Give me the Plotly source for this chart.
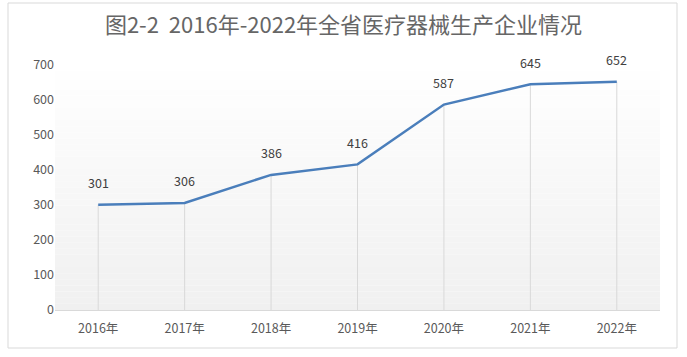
import plotly.graph_objects as go

years = ["2016年", "2017年", "2018年", "2019年", "2020年", "2021年", "2022年"]
values = [301, 306, 386, 416, 587, 645, 652]
y_ticks = [0, 100, 200, 300, 400, 500, 600, 700]
title_text = "图2-2  2016年-2022年全省医疗器械生产企业情况"

FONT = "Noto Sans CJK SC, Noto Sans, sans-serif"

fig = go.Figure()

# drop lines from each point to the baseline
for i, v in enumerate(values):
    fig.add_shape(type="line", xref="x", yref="y", x0=i, x1=i, y0=0, y1=v,
                  line=dict(color="#D9D9D9", width=1), layer="below")

fig.add_trace(go.Scatter(
    x=list(range(len(years))), y=values, mode="lines",
    line=dict(color="#4A7EBB", width=2.5),
    hoverinfo="skip", showlegend=False,
))

for i, v in enumerate(values):
    fig.add_annotation(x=i, y=v, text=str(v), showarrow=False, yshift=22,
                       font=dict(family=FONT, size=12.5, color="#404040"))

# gradient background (white at top to light gray at bottom)
n = 40
for k in range(n):
    y0 = 700 * k / n
    y1 = 700 * (k + 1) / n
    t = 1 - (k + 0.5) / n  # 1 at bottom, 0 at top
    g = int(round(255 - 15 * t))
    fig.add_shape(type="rect", xref="paper", yref="y", x0=0, x1=1, y0=y0, y1=y1,
                  fillcolor=f"rgb({g},{g},{g})", line=dict(width=0), layer="below")

# outer chart border
fig.add_shape(type="rect", xref="paper", yref="paper",
              x0=(8 - 55) / 605, x1=(677 - 55) / 605,
              y0=(310 - 348) / 245, y1=(310 - 3) / 245,
              line=dict(color="#D9D9D9", width=1), fillcolor="rgba(0,0,0,0)")

fig.update_layout(
    width=687, height=357,
    margin=dict(l=55, r=27, t=65, b=47),
    paper_bgcolor="white", plot_bgcolor="rgba(0,0,0,0)",
    title=dict(text=title_text, x=0.5, xanchor="center", y=1 - 25 / 357, yanchor="middle",
               font=dict(family=FONT, size=22, color="#666666")),
    xaxis=dict(range=[-0.5, len(years) - 0.5], tickmode="array",
               tickvals=list(range(len(years))), ticktext=years,
               showgrid=False, zeroline=False, showline=True, linecolor="#D9D9D9",
               linewidth=1, ticks="", ticklabelstandoff=7,
               tickfont=dict(family=FONT, size=12.5, color="#595959")),
    yaxis=dict(range=[0, 700], tickmode="array", tickvals=y_ticks,
               showgrid=False, zeroline=False, showline=False, ticks="",
               tickfont=dict(family=FONT, size=12.5, color="#595959")),
)

fig.write_html("out.html", config={"displayModeBar": False},
               post_script="document.body.style.margin='0';document.body.style.overflow='hidden';")
